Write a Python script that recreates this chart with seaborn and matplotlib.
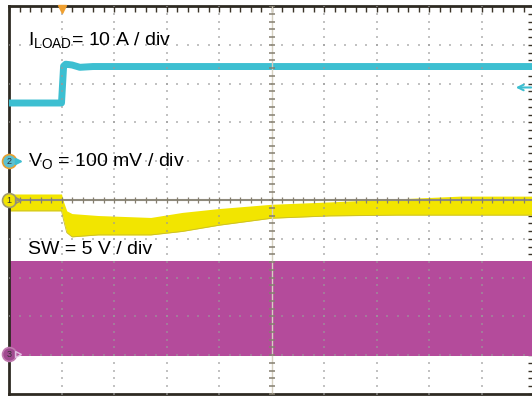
import numpy as np
import pandas as pd
import matplotlib
matplotlib.use("Agg")
import matplotlib.pyplot as plt
import seaborn as sns

# time axis in divisions (10 div across the screen), vertical in divisions
t_load = [0, 1.0, 1.04, 1.08, 1.2, 1.35, 1.6, 10]
i_load = [2.5, 2.5, 3.45, 3.5, 3.48, 3.42, 3.44, 3.44]     # 10 A / div

t_vo = [0, 1.0, 1.04, 1.1, 1.2, 1.7, 2.7, 3.3, 4.0, 5.0, 6.1, 7.4, 8.6, 10]
vo_hi = [15.5, 15.5, -5, -28, -35, -40, -45, -32, -22, -11, -5, 3, 10, 10]        # mV
vo_lo = [-28, -28, -52, -84, -95, -90, -90, -81, -65, -47, -41, -39, -39, -39]    # mV

t_sw = [0, 10]
sw_hi = [-1.57, -1.57]
sw_lo = [-4.02, -4.02]

labels = ["I$_{\\mathrm{LOAD}}$= 10 A / div", "V$_{\\mathrm{O}}$ = 100 mV / div", "SW = 5 V / div"]

CYAN = "#3dbfd1"
YELLOW = "#f2e500"
MAGENTA = "#b44b9b"

sns.set_style("white")
plt.rcParams["font.family"] = ["Liberation Sans", "DejaVu Sans"]
plt.rcParams["mathtext.fontset"] = "custom"
plt.rcParams["mathtext.rm"] = "Liberation Sans"

fig = plt.figure(figsize=(5.32, 3.98), dpi=100)
ax = fig.add_axes([9 / 532, 4 / 398, 525 / 532, 388 / 398])
ax.set_xlim(0, 10)
ax.set_ylim(-5, 5)

# traces
ax.fill_between(t_sw, sw_lo, sw_hi, color=MAGENTA, lw=0, zorder=2)
vo = pd.DataFrame({"t": t_vo, "hi": np.array(vo_hi) / 100, "lo": np.array(vo_lo) / 100})
ax.fill_between(vo["t"], vo["lo"], vo["hi"], color=YELLOW, lw=0, zorder=2)
ax.plot(vo["t"], vo["lo"], color="#c8bc30", lw=0.6, zorder=2)
load = pd.DataFrame({"t": t_load, "i": i_load})
sns.lineplot(data=load, x="t", y="i", estimator=None, sort=False, color=CYAN,
             lw=5, ax=ax, zorder=3)

# graticule dots
xm = np.arange(0, 10.001, 0.2)
ym = np.arange(-5, 5.001, 0.2)
for g in range(1, 10):
    if g != 5:
        ax.scatter(np.full_like(ym, g), ym, s=1.1, marker="s", color="#9a9a9a",
                   alpha=0.6, lw=0, zorder=5)
for g in range(-4, 5):
    if g != 0:
        ax.scatter(xm, np.full_like(xm, g), s=1.1, marker="s", color="#9a9a9a",
                   alpha=0.6, lw=0, zorder=5)

# centre crosshair
ax.axvline(5, color="#d6d0c0", lw=1, zorder=5)
ax.axhline(0, color="#8e8a7c", lw=1.5, zorder=5)
ax.plot(np.full_like(ym, 5), ym, ls="", marker="_", ms=4.5, mew=1.1, color="#857f70", zorder=6)
ax.plot(xm, np.zeros_like(xm), ls="", marker="|", ms=4, mew=0.9, color="#857f70", zorder=6)

# border ticks
ax.set_xticks(xm)
ax.set_yticks(ym)
ax.tick_params(direction="in", length=4, width=1, color="#3a3328", top=True, right=True,
               labelbottom=False, labelleft=False)
ax.set_xlabel("")
ax.set_ylabel("")
for s in ax.spines.values():
    s.set_color("#2e2a22")
    s.set_linewidth(2)

# labels
for txt, y in zip(labels, [3.97, 0.85, -1.39]):
    ax.text(0.36, y, txt, fontsize=14, va="baseline", ha="left", color="black", zorder=7)

# trigger position and level markers
ax.plot([1.0], [4.93], marker="v", ms=6, color="#f0a030", clip_on=False, zorder=8)
ax.annotate("", xy=(9.6, 2.9), xytext=(10.0, 2.9),
            arrowprops=dict(arrowstyle="->", color=CYAN, lw=1.5), zorder=8)

# channel markers on left edge
for num, y, fc, ec in [("2", 1.0, "#5cc0d0", "#e8a030"), ("1", 0.0, YELLOW, "#a09a70"),
                       ("3", -3.97, "#a04a90", "#c07ab0")]:
    ax.plot([0], [y], marker="o", ms=10, mfc=fc, mec=ec, mew=1.2, clip_on=False, zorder=9)
    ax.text(0, y, num, fontsize=6.5, ha="center", va="center", color="#333333",
            zorder=10, clip_on=False)
ax.plot([0.17], [1.0], marker=">", ms=4, color=CYAN, clip_on=False, zorder=9)
ax.plot([0.17], [0.0], marker=">", ms=4, mfc="none", mec="#8e8a7c", clip_on=False, zorder=9)
ax.plot([0.17], [-3.97], marker=">", ms=4, mfc="none", mec="#e0c0e0", clip_on=False, zorder=9)

fig.savefig("out.png", dpi=100)
